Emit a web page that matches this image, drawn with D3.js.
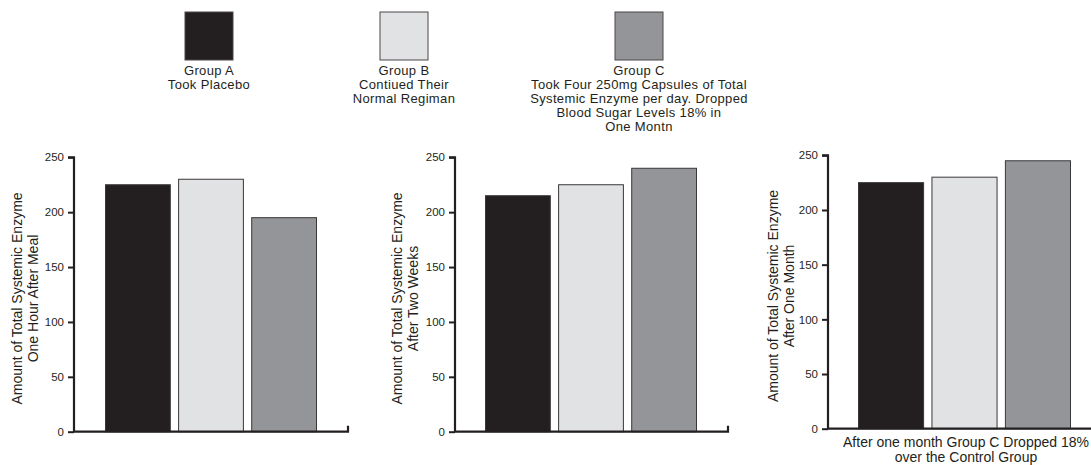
<!DOCTYPE html>
<html>
<head>
<meta charset="utf-8">
<script src="https://cdn.jsdelivr.net/npm/d3@7"></script>
<style>
  html, body { margin: 0; padding: 0; background: #ffffff; }
  svg { display: block; }
  text { font-family: "Liberation Sans", Arial, sans-serif; fill: #231f20; }
</style>
</head>
<body>
<svg id="chart" width="1091" height="465"></svg>
<script>
// ---- data ----
const groups = ["Group A", "Group B", "Group C"];
const groupColors = ["#231f20", "#e1e2e4", "#939598"];
const legendLabels = [
  ["Group A", "Took Placebo"],
  ["Group B", "Contiued Their", "Normal Regiman"],
  ["Group C", "Took Four 250mg Capsules of Total", "Systemic Enzyme per day. Dropped", "Blood Sugar Levels 18% in", "One Montn"]
];
const oneHourValues = [225, 230, 195];
const twoWeeksValues = [215, 225, 240];
const oneMonthValues = [225, 230, 245];
const yTicks = [0, 50, 100, 150, 200, 250];
const yTitles = [
  ["Amount of Total Systemic Enzyme", "One Hour After Meal"],
  ["Amount of Total Systemic Enzyme", "After  Two Weeks"],
  ["Amount of Total Systemic Enzyme", "After One Month"]
];
const xLabel3 = ["After one month Group C Dropped 18%", "over the Control Group"];

// ---- layout ----
const svg = d3.select("#chart");
const ink = "#231f20";
const fontFam = '"Liberation Sans", Arial, sans-serif';

const panels = [
  { values: oneHourValues, axisX: 74, barStart: 105, barEnd: 317, xEnd: 348, y0: 431.7, y250: 157.3, titleX: 17, endTick: true, title: yTitles[0] },
  { values: twoWeeksValues, axisX: 455, barStart: 485, barEnd: 697, xEnd: 728, y0: 431.7, y250: 157.3, titleX: 397, endTick: true, title: yTitles[1] },
  { values: oneMonthValues, axisX: 828, barStart: 858, barEnd: 1071, xEnd: 1092, y0: 428.7, y250: 155.3, titleX: 773, endTick: false, title: yTitles[2] }
];

panels.forEach((p, pi) => {
  const g = svg.append("g");
  const y = d3.scaleLinear().domain([0, 250]).range([p.y0, p.y250]);
  const x = d3.scaleBand().domain(groups).range([p.barStart, p.barEnd]).paddingInner(0.1).paddingOuter(0);

  // bars
  g.selectAll("rect.bar").data(p.values).join("rect")
    .attr("class", "bar")
    .attr("x", (d, i) => x(groups[i]) + 0.5)
    .attr("y", d => y(d))
    .attr("width", x.bandwidth() - 1)
    .attr("height", d => y(0) - y(d))
    .attr("fill", (d, i) => groupColors[i])
    .attr("stroke", "#3a3738")
    .attr("stroke-width", 1);

  // y axis
  const yAxis = d3.axisLeft(y).tickValues(yTicks).tickSize(6).tickPadding(4).tickFormat(d3.format("d"));
  const ya = g.append("g").attr("transform", `translate(${p.axisX},0)`).call(yAxis);
  ya.select(".domain").attr("stroke", ink).attr("stroke-width", 2.2)
    .attr("d", `M-6,${y(250)}H0V${y(0)}`);
  ya.selectAll(".tick line").attr("stroke", ink).attr("stroke-width", 2);
  ya.selectAll(".tick text").attr("font-size", 11.5).style("font-family", fontFam).attr("fill", ink);

  // x axis baseline
  g.append("path")
    .attr("d", p.endTick
      ? `M${p.axisX - 1},${y(0)}H${p.xEnd}V${y(0) - 6}`
      : `M${p.axisX - 1},${y(0)}H${p.xEnd}`)
    .attr("fill", "none").attr("stroke", ink).attr("stroke-width", 2.2);

  // y title
  const midY = (y(0) + y(250)) / 2 + 4;
  const t = g.append("text")
    .attr("transform", `translate(${p.titleX},${midY}) rotate(-90)`)
    .attr("text-anchor", "middle")
    .attr("font-size", 14);
  p.title.forEach((line, li) => {
    t.append("tspan").attr("x", 0).attr("dy", li === 0 ? "0.35em" : 16).text(line);
  });
});

// x label for third panel
const xl = svg.append("text").attr("text-anchor", "middle").attr("font-size", 14);
xLabel3.forEach((line, li) => {
  xl.append("tspan").attr("x", 966).attr("y", 447 + li * 15).text(line);
});

// ---- legend ----
const legendCenters = [209, 404, 639];
groups.forEach((gname, i) => {
  const cx = legendCenters[i];
  svg.append("rect")
    .attr("x", cx - 24).attr("y", 12).attr("width", 48).attr("height", 48)
    .attr("fill", groupColors[i])
    .attr("stroke", "#4a4748").attr("stroke-width", 1);
  const lt = svg.append("text").attr("text-anchor", "middle").attr("font-size", 13)
    .attr("letter-spacing", 0.35);
  legendLabels[i].forEach((line, li) => {
    lt.append("tspan").attr("x", cx).attr("y", 75 + li * 14).text(line);
  });
});
</script>
</body>
</html>
